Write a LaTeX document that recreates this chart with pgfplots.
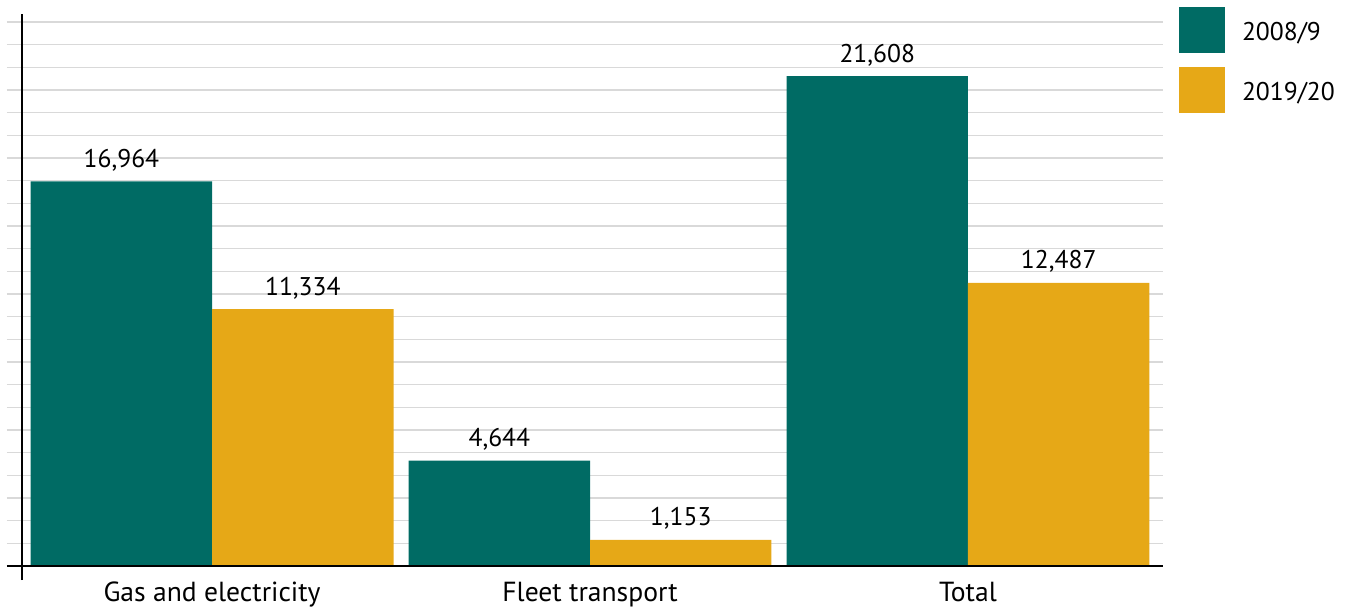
\documentclass[border=0pt]{standalone}
\usepackage{pgfplots}
\pgfplotsset{compat=1.18}
\usepackage{fontspec}
\setmainfont{PT Sans}
\definecolor{teal2}{RGB}{0,107,100}
\definecolor{gold2}{RGB}{230,168,23}
\newcommand{\lblfont}{\fontsize{12.8}{15}\selectfont}
\newcommand{\xlblfont}{\fontsize{13.8}{16}\selectfont}
\begin{document}
\begin{tikzpicture}
\path[use as bounding box] (-11pt,-20.5pt) rectangle (662pt,283pt);
\begin{axis}[
  at={(0,0)}, anchor=south west,
  scale only axis, width=570.5pt, height=276pt,
  xmin=-0.503, xmax=2.516, ymin=0, ymax=24350,
  clip=false,
  ybar=0pt, bar width=0.48,
  axis line style={draw=none},
  xtick={0,1,2},
  xticklabels={Gas and electricity, Fleet transport, Total},
  xtick style={draw=none},
  ytick distance=1000,
  yticklabel=\empty,
  ytick pos=left,
  tick align=outside,
  major tick length=7.5pt,
  ytick style={draw=gray!30, line width=0.6pt},
  ymajorgrids,
  major grid style={gray!30, line width=0.6pt},
  xticklabel style={font=\xlblfont, anchor=base, yshift=-10.2pt, inner sep=0pt},
  nodes near coords,
  every node near coord/.append style={font=\lblfont, anchor=base, inner sep=0pt, yshift=7pt, text=black},
  /pgf/number format/1000 sep={,},
  /pgf/number format/assume math mode=true,
  legend style={at={(1,1)}, anchor=north west, xshift=8pt, yshift=3.5pt, draw=none, fill=none, inner sep=0pt, outer sep=0pt, row sep=7pt, column sep=8.5pt, nodes={inner sep=0pt, anchor=base west, font=\lblfont}},
  legend cell align=left,
  legend image code/.code={\fill[#1] (0pt,-6.5pt) rectangle (23pt,16.5pt);},
]
\addplot[fill=teal2, draw=none] coordinates {(0,16964) (1,4644) (2,21608)};
\addplot[fill=gold2, draw=none] coordinates {(0,11334) (1,1153) (2,12487)};
\legend{2008/9, 2019/20}
\draw[line width=0.7pt] ([xshift=-7.5pt]rel axis cs:0,0) -- (rel axis cs:1,0);
\draw[line width=0.7pt] ([yshift=-7pt]rel axis cs:0,0) -- (rel axis cs:0,1);
\end{axis}
\end{tikzpicture}
\end{document}
